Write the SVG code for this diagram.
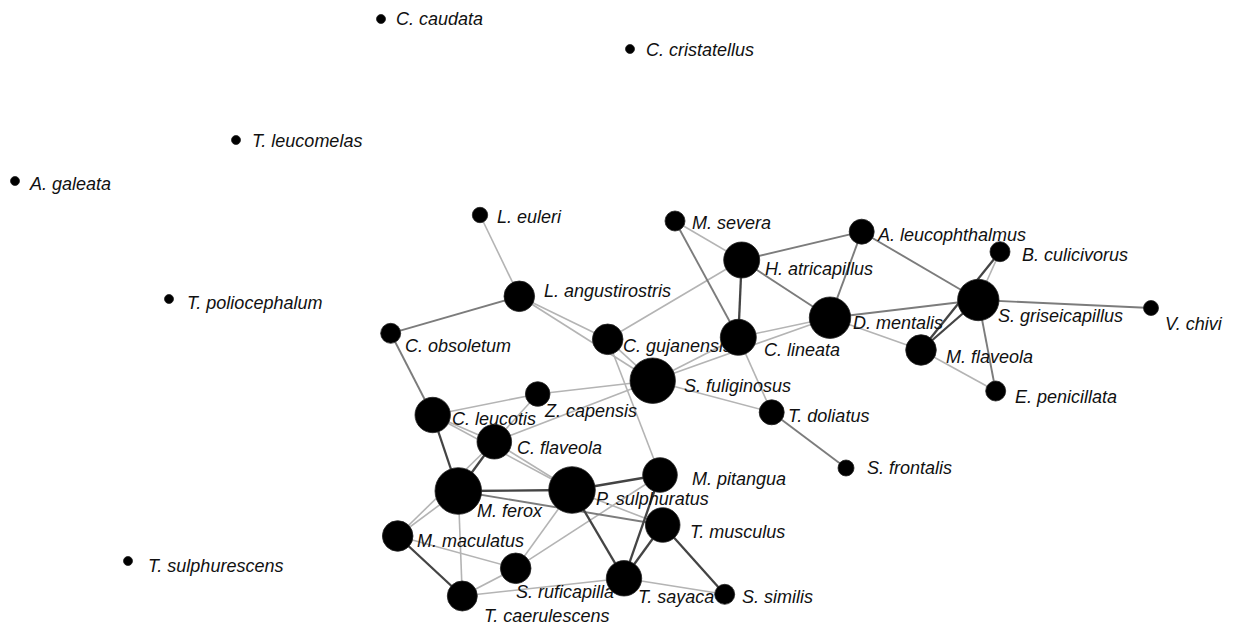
<svg xmlns="http://www.w3.org/2000/svg" width="1239" height="628" viewBox="0 0 1239 628">
<style>
.e1{stroke:#b4b4b4;stroke-width:1.6;fill:none}
.e2{stroke:#7c7c7c;stroke-width:1.9;fill:none}
.e3{stroke:#444;stroke-width:2.3;fill:none}
.n circle{fill:#000;stroke:#222;stroke-width:0.8}
.n text{font-family:"Liberation Sans",Arial,sans-serif;font-style:italic;font-size:18px;fill:#111}
</style>
<rect width="1239" height="628" fill="#fff"/>
<g id="edges">
<line class="e1" x1="480" y1="215" x2="519.3" y2="296.3"/>
<line class="e1" x1="519.3" y1="296.3" x2="607.7" y2="339.3"/>
<line class="e1" x1="519.3" y1="296.3" x2="652.7" y2="380.7"/>
<line class="e1" x1="607.7" y1="339.3" x2="741.7" y2="260"/>
<line class="e1" x1="607.7" y1="339.3" x2="652.7" y2="380.7"/>
<line class="e1" x1="607.7" y1="339.3" x2="660" y2="475"/>
<line class="e1" x1="675" y1="221" x2="741.7" y2="260"/>
<line class="e1" x1="652.7" y1="380.7" x2="738.3" y2="337.3"/>
<line class="e1" x1="652.7" y1="380.7" x2="830" y2="317.7"/>
<line class="e1" x1="652.7" y1="380.7" x2="771.7" y2="412.3"/>
<line class="e1" x1="738.3" y1="337.3" x2="771.7" y2="412.3"/>
<line class="e1" x1="537.7" y1="394" x2="652.7" y2="380.7"/>
<line class="e1" x1="494.3" y1="441.7" x2="652.7" y2="380.7"/>
<line class="e1" x1="432.7" y1="415" x2="537.7" y2="394"/>
<line class="e1" x1="537.7" y1="394" x2="494.3" y2="441.7"/>
<line class="e1" x1="432.7" y1="415" x2="494.3" y2="441.7"/>
<line class="e1" x1="432.7" y1="415" x2="572" y2="490"/>
<line class="e1" x1="494.3" y1="441.7" x2="572" y2="490"/>
<line class="e1" x1="397.7" y1="536" x2="494.3" y2="441.7"/>
<line class="e1" x1="397.7" y1="536" x2="458.3" y2="491"/>
<line class="e1" x1="458.3" y1="491" x2="462.3" y2="596"/>
<line class="e1" x1="397.7" y1="536" x2="515.7" y2="568.3"/>
<line class="e1" x1="515.7" y1="568.3" x2="462.3" y2="596"/>
<line class="e1" x1="515.7" y1="568.3" x2="572" y2="490"/>
<line class="e1" x1="515.7" y1="568.3" x2="660" y2="475"/>
<line class="e1" x1="462.3" y1="596" x2="624" y2="578.3"/>
<line class="e1" x1="624" y1="578.3" x2="724.7" y2="594.3"/>
<line class="e1" x1="572" y1="490" x2="662.7" y2="525"/>
<line class="e1" x1="830" y1="317.7" x2="921" y2="350"/>
<line class="e1" x1="921" y1="350" x2="995.7" y2="391"/>
<line class="e1" x1="1000" y1="251.7" x2="978.3" y2="300"/>
<line class="e2" x1="519.3" y1="296.3" x2="390.7" y2="333.3"/>
<line class="e2" x1="390.7" y1="333.3" x2="432.7" y2="415"/>
<line class="e2" x1="675" y1="221" x2="738.3" y2="337.3"/>
<line class="e2" x1="861.7" y1="231.7" x2="741.7" y2="260"/>
<line class="e2" x1="861.7" y1="231.7" x2="830" y2="317.7"/>
<line class="e2" x1="861.7" y1="231.7" x2="978.3" y2="300"/>
<line class="e2" x1="741.7" y1="260" x2="830" y2="317.7"/>
<line class="e1" x1="738.3" y1="337.3" x2="830" y2="317.7"/>
<line class="e2" x1="771.7" y1="412.3" x2="846" y2="468"/>
<line class="e2" x1="978.3" y1="300" x2="830" y2="317.7"/>
<line class="e2" x1="978.3" y1="300" x2="1151" y2="308"/>
<line class="e2" x1="978.3" y1="300" x2="995.7" y2="391"/>
<line class="e2" x1="458.3" y1="491" x2="662.7" y2="525"/>
<line class="e3" x1="741.7" y1="260" x2="738.3" y2="337.3"/>
<line class="e3" x1="432.7" y1="415" x2="458.3" y2="491"/>
<line class="e3" x1="458.3" y1="491" x2="494.3" y2="441.7"/>
<line class="e3" x1="458.3" y1="491" x2="572" y2="490"/>
<line class="e3" x1="397.7" y1="536" x2="462.3" y2="596"/>
<line class="e3" x1="572" y1="490" x2="624" y2="578.3"/>
<line class="e3" x1="572" y1="490" x2="660" y2="475"/>
<line class="e3" x1="624" y1="578.3" x2="660" y2="475"/>
<line class="e3" x1="624" y1="578.3" x2="662.7" y2="525"/>
<line class="e3" x1="662.7" y1="525" x2="724.7" y2="594.3"/>
<line class="e3" x1="978.3" y1="300" x2="921" y2="350"/>
<line class="e3" x1="1000" y1="251.7" x2="921" y2="350"/>
</g>
<g id="n-caudata" class="n"><circle cx="381" cy="19" r="4.5"/><text x="396" y="25">C. caudata</text></g>
<g id="n-cristatellus" class="n"><circle cx="630" cy="49" r="4.5"/><text x="646" y="56">C. cristatellus</text></g>
<g id="n-leucomelas" class="n"><circle cx="236" cy="140" r="4.5"/><text x="252" y="147">T. leucomelas</text></g>
<g id="n-galeata" class="n"><circle cx="15" cy="181" r="4.5"/><text x="30" y="190">A. galeata</text></g>
<g id="n-poliocephalum" class="n"><circle cx="169" cy="299" r="4.5"/><text x="187" y="309">T. poliocephalum</text></g>
<g id="n-sulphurescens" class="n"><circle cx="128" cy="561" r="4.5"/><text x="148" y="572">T. sulphurescens</text></g>
<g id="n-euleri" class="n"><circle cx="480" cy="215" r="7.7"/><text x="497" y="223">L. euleri</text></g>
<g id="n-severa" class="n"><circle cx="675" cy="221" r="10"/><text x="692" y="229">M. severa</text></g>
<g id="n-leucophthalmus" class="n"><circle cx="861.7" cy="231.7" r="12.5"/><text x="878" y="241">A. leucophthalmus</text></g>
<g id="n-culicivorus" class="n"><circle cx="1000" cy="251.7" r="10"/><text x="1022" y="261">B. culicivorus</text></g>
<g id="n-atricapillus" class="n"><circle cx="741.7" cy="260" r="18"/><text x="765" y="275">H. atricapillus</text></g>
<g id="n-griseicapillus" class="n"><circle cx="978.3" cy="300" r="20.7"/><text x="998" y="322">S. griseicapillus</text></g>
<g id="n-chivi" class="n"><circle cx="1151" cy="308" r="7.5"/><text x="1165" y="330">V. chivi</text></g>
<g id="n-angustirostris" class="n"><circle cx="519.3" cy="296.3" r="15.3"/><text x="544" y="297">L. angustirostris</text></g>
<g id="n-mentalis" class="n"><circle cx="830" cy="317.7" r="20.7"/><text x="853" y="329">D. mentalis</text></g>
<g id="n-obsoletum" class="n"><circle cx="390.7" cy="333.3" r="10"/><text x="405" y="352">C. obsoletum</text></g>
<g id="n-gujanensis" class="n"><circle cx="607.7" cy="339.3" r="15.3"/><text x="623" y="352">C. gujanensis</text></g>
<g id="n-lineata" class="n"><circle cx="738.3" cy="337.3" r="18"/><text x="764" y="356">C. lineata</text></g>
<g id="n-flaveolaM" class="n"><circle cx="921" cy="350" r="15.3"/><text x="946" y="363">M. flaveola</text></g>
<g id="n-fuliginosus" class="n"><circle cx="652.7" cy="380.7" r="22.7"/><text x="684" y="392">S. fuliginosus</text></g>
<g id="n-capensis" class="n"><circle cx="537.7" cy="394" r="12.3"/><text x="545" y="417">Z. capensis</text></g>
<g id="n-penicillata" class="n"><circle cx="995.7" cy="391" r="10"/><text x="1015" y="403">E. penicillata</text></g>
<g id="n-doliatus" class="n"><circle cx="771.7" cy="412.3" r="12.5"/><text x="788" y="422">T. doliatus</text></g>
<g id="n-leucotis" class="n"><circle cx="432.7" cy="415" r="17.7"/><text x="452" y="425">C. leucotis</text></g>
<g id="n-flaveolaC" class="n"><circle cx="494.3" cy="441.7" r="17.3"/><text x="517" y="454">C. flaveola</text></g>
<g id="n-frontalis" class="n"><circle cx="846" cy="468" r="8"/><text x="867" y="474">S. frontalis</text></g>
<g id="n-pitangua" class="n"><circle cx="660" cy="475" r="17.3"/><text x="692" y="485">M. pitangua</text></g>
<g id="n-ferox" class="n"><circle cx="458.3" cy="491" r="23.3"/><text x="477" y="517">M. ferox</text></g>
<g id="n-sulphuratus" class="n"><circle cx="572" cy="490" r="23.3"/><text x="596" y="505">P. sulphuratus</text></g>
<g id="n-musculus" class="n"><circle cx="662.7" cy="525" r="17.3"/><text x="690" y="538">T. musculus</text></g>
<g id="n-maculatus" class="n"><circle cx="397.7" cy="536" r="15.3"/><text x="417" y="547">M. maculatus</text></g>
<g id="n-ruficapilla" class="n"><circle cx="515.7" cy="568.3" r="15.3"/><text x="516" y="598">S. ruficapilla</text></g>
<g id="n-sayaca" class="n"><circle cx="624" cy="578.3" r="17.7"/><text x="638" y="603">T. sayaca</text></g>
<g id="n-caerulescens" class="n"><circle cx="462.3" cy="596" r="15"/><text x="484" y="622">T. caerulescens</text></g>
<g id="n-similis" class="n"><circle cx="724.7" cy="594.3" r="10"/><text x="742" y="603">S. similis</text></g>
</svg>
